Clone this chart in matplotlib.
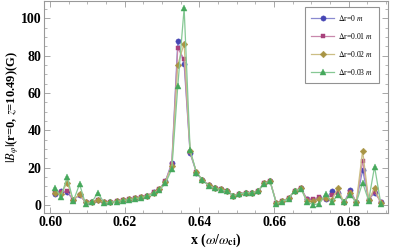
import matplotlib
matplotlib.use("Agg")
import matplotlib.pyplot as plt
from matplotlib.ticker import MultipleLocator

plt.rcParams['font.family'] = 'Liberation Serif'
plt.rcParams['mathtext.fontset'] = 'stix'

# frequency grid (omega / omega_ci)
freq = [0.6013, 0.6029, 0.6046, 0.6062, 0.6079, 0.6095, 0.6112, 0.6128, 0.6145, 0.6161,
        0.6178, 0.6194, 0.6211, 0.6227, 0.6244, 0.6260, 0.6277, 0.6293, 0.6309, 0.6326,
        0.6342, 0.6359, 0.6375, 0.6392, 0.6408, 0.6425, 0.6441, 0.6458, 0.6474, 0.6491,
        0.6507, 0.6524, 0.6540, 0.6557, 0.6573, 0.6589, 0.6606, 0.6622, 0.6639, 0.6655,
        0.6672, 0.6688, 0.6705, 0.6721, 0.6738, 0.6754, 0.6771, 0.6787, 0.6804, 0.6820,
        0.6837, 0.6853, 0.6869, 0.6886]

b_dr0 = [6.0, 7.5, 6.8, 2.7, 5.3, 1.4, 1.6, 2.7, 1.4, 1.6,
         2.0, 2.5, 3.0, 3.6, 4.2, 5.0, 6.8, 8.6, 12.8, 22.6,
         87.8, 75.3, 27.6, 17.3, 13.4, 10.5, 9.0, 8.3, 7.5, 5.0,
         5.9, 6.6, 6.6, 7.4, 11.6, 12.8, 1.0, 2.0, 3.6, 7.7,
         8.9, 3.0, 2.5, 3.6, 3.0, 7.3, 6.2, 1.3, 8.0, 1.3,
         18.7, 2.7, 6.6, 1.8]
b_dr1 = [6.5, 7.0, 7.2, 2.7, 5.5, 1.5, 1.6, 2.8, 1.5, 1.6,
         2.0, 2.5, 3.0, 3.6, 4.2, 5.0, 6.8, 8.5, 12.6, 22.0,
         84.0, 78.0, 28.3, 17.4, 13.5, 10.5, 9.0, 8.3, 7.5, 5.0,
         5.9, 6.6, 6.6, 7.4, 11.7, 12.9, 1.1, 2.0, 3.6, 7.7,
         8.9, 3.0, 3.3, 4.0, 3.0, 5.5, 6.2, 1.3, 7.1, 1.3,
         23.7, 2.7, 6.9, 1.5]
b_dr2 = [6.5, 6.0, 11.8, 2.7, 5.8, 1.4, 1.6, 2.7, 1.4, 1.6,
         2.0, 2.5, 3.0, 3.5, 4.1, 4.9, 6.6, 8.3, 12.3, 21.0,
         75.2, 86.5, 28.8, 17.4, 13.4, 10.4, 9.0, 8.3, 7.4, 5.0,
         5.9, 6.6, 6.6, 7.3, 11.6, 12.8, 1.0, 2.0, 3.6, 7.6,
         8.8, 2.1, 2.3, 3.0, 3.6, 2.8, 8.8, 1.3, 6.2, 1.3,
         29.0, 2.7, 8.9, 0.9]
b_dr3 = [9.3, 4.3, 14.9, 2.0, 11.1, 0.5, 1.5, 6.6, 1.0, 1.4,
         1.8, 2.3, 2.8, 3.3, 3.9, 4.6, 6.2, 7.9, 11.5, 19.2,
         63.7, 105.5, 29.4, 17.3, 13.3, 10.3, 8.9, 8.2, 7.3, 4.9,
         5.8, 6.5, 6.5, 7.2, 11.4, 12.6, 0.6, 1.8, 3.4, 7.5,
         8.7, 1.5, 0.2, 0.5, 5.9, 1.5, 5.3, 1.6, 5.5, 1.2,
         11.9, 2.3, 20.5, 0.4]

labels = [r'$\Delta$r=0 $m$', r'$\Delta$r=0.01 $m$', r'$\Delta$r=0.02 $m$', r'$\Delta$r=0.03 $m$']
marker_colors = ['#4646B4', '#A8417C', '#A89444', '#46A85C']
line_colors = ['#8A8AD0', '#C888AC', '#CCBE84', '#86C894']
markers = ['o', 's', 'D', '^']
sizes = [3.8, 3.5, 3.4, 3.9]

fig = plt.figure(figsize=(4.01, 2.49), dpi=100)
ax = fig.add_axes([0.11, 0.145, 0.8576, 0.851])

for ys, lab, mc, lc, mk, ms in zip([b_dr0, b_dr1, b_dr2, b_dr3], labels,
                                   marker_colors, line_colors, markers, sizes):
    ax.plot(freq, ys, color=lc, lw=0.9, marker=mk, ms=ms, mfc=mc, mec=mc,
            mew=0.3, label=lab)

ax.set_xlim(0.5984, 0.6905)
ax.set_ylim(-4.3, 109.3)
ax.xaxis.set_major_locator(MultipleLocator(0.02))
ax.xaxis.set_minor_locator(MultipleLocator(0.005))
ax.yaxis.set_major_locator(MultipleLocator(20))
ax.yaxis.set_minor_locator(MultipleLocator(5))
ax.xaxis.set_major_formatter(plt.FuncFormatter(lambda v, p: f'{v:.2f}'))

ax.tick_params(which='both', direction='in', top=True, right=True, colors='#999999',
               labelcolor='black', labelsize=10, pad=2)
ax.tick_params(which='major', length=4, width=0.6)
ax.tick_params(which='minor', length=2, width=0.5)
for t in ax.get_xticklabels() + ax.get_yticklabels():
    t.set_fontweight('bold')
for s in ax.spines.values():
    s.set_color('#999999')
    s.set_linewidth(0.8)

ax.set_xlabel(r'x ($\omega/\omega_{\mathbf{ci}}$)', fontsize=10, fontweight='bold', labelpad=2)
ax.set_ylabel(r'$|B_{\varphi}|$(r=0, $z$=10.49)(G)', fontsize=9, fontweight='bold')
ax.yaxis.set_label_coords(-0.066, 0.5)

leg = ax.legend(loc='upper right', bbox_to_anchor=(0.974, 0.972), fontsize=5.5,
                frameon=True, fancybox=False, handlelength=3.0, borderpad=0.8,
                labelspacing=1.05, handletextpad=0.5, borderaxespad=0.0)
leg.get_frame().set_edgecolor('#777777')
leg.get_frame().set_linewidth(0.8)

fig.savefig('out.png', dpi=100)
